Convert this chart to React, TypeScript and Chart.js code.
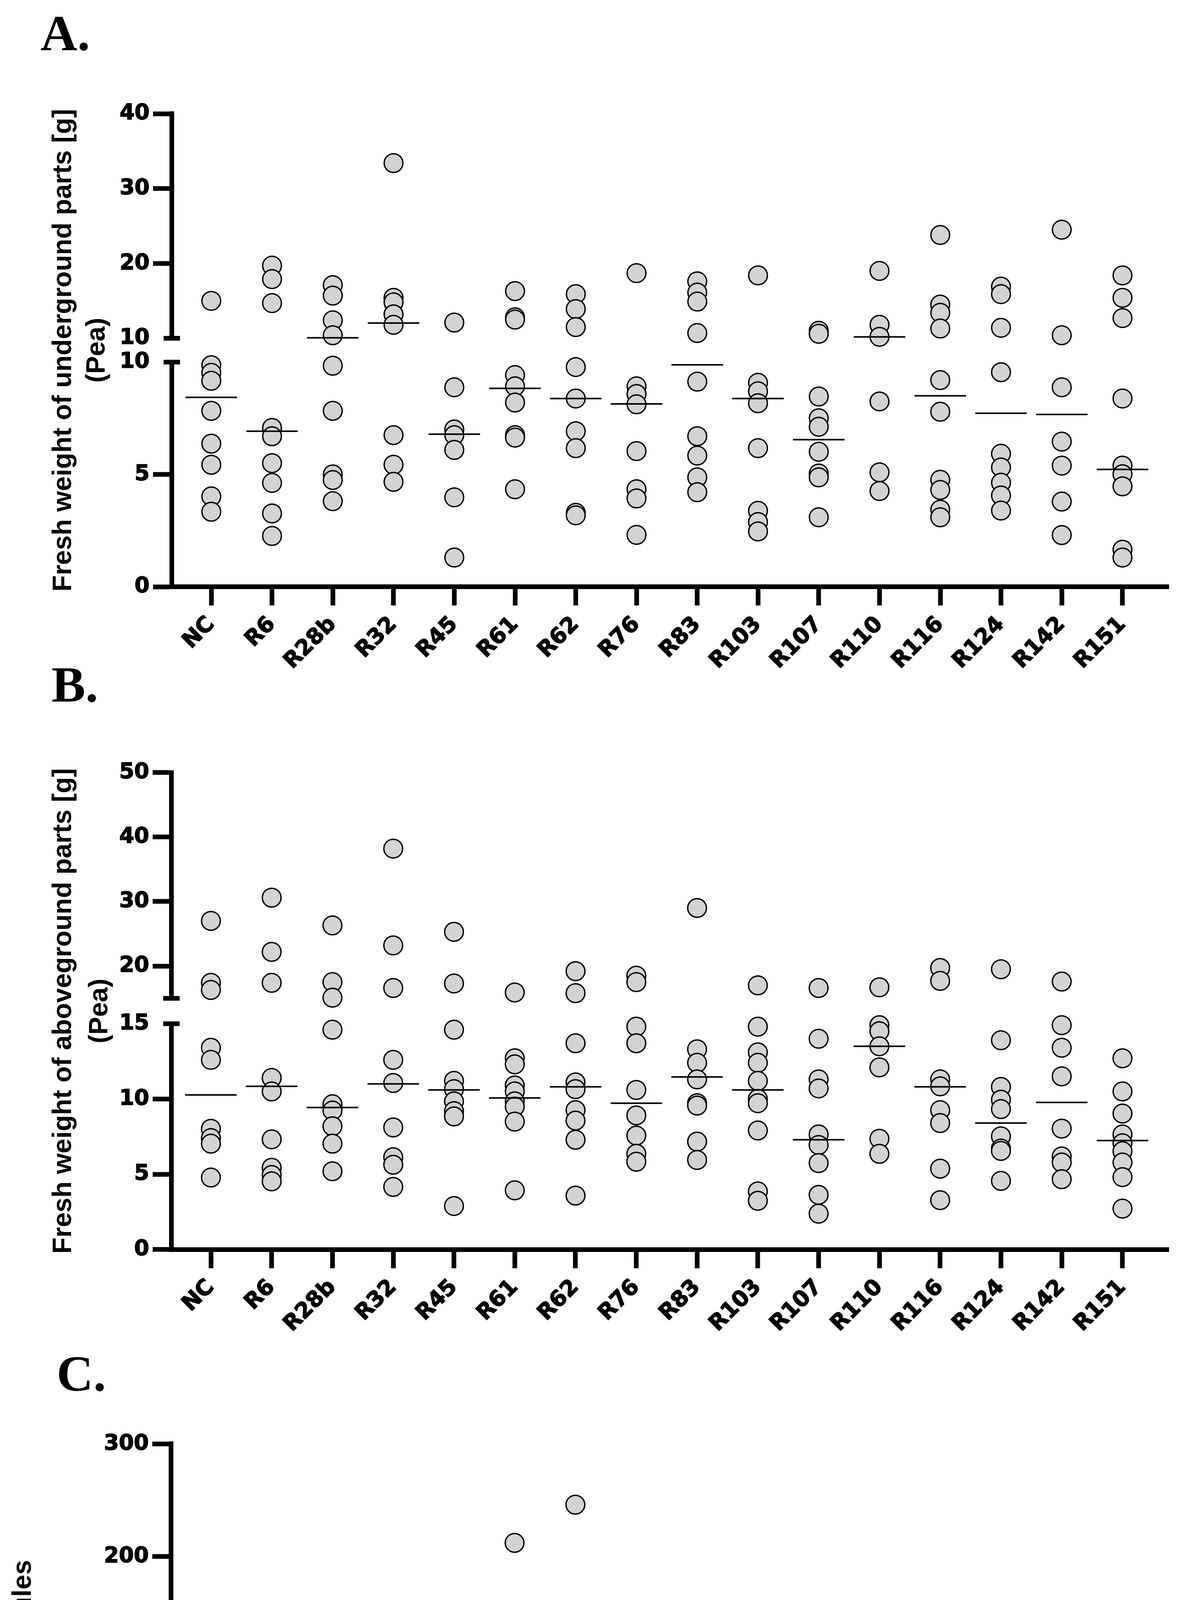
import React, { useEffect, useRef } from 'react';
import { Chart, registerables } from 'chart.js';

Chart.register(...registerables);

// ---------------- data ----------------
const STRAINS = ['NC', 'R6', 'R28b', 'R32', 'R45', 'R61', 'R62', 'R76', 'R83', 'R103', 'R107', 'R110', 'R116', 'R124', 'R142', 'R151'];

// Panel A: fresh weight of underground parts [g]
const A_LOW_TICKS = [0, 5, 10];
const A_HIGH_TICKS = [10, 20, 30, 40];
const A_VALUES = [
  [15.0, 9.86, 9.52, 9.17, 7.83, 6.37, 5.43, 4.02, 3.34],
  [19.7, 17.9, 14.7, 7.07, 6.70, 5.50, 4.62, 3.26, 2.26],
  [17.1, 15.7, 12.4, 10.4, 9.84, 7.83, 5.0, 4.75, 3.81],
  [33.4, 15.4, 14.8, 13.2, 11.8, 6.75, 5.43, 4.67],
  [12.1, 8.88, 7.0, 6.75, 6.09, 3.98, 1.30],
  [16.3, 12.8, 12.5, 9.42, 8.92, 8.20, 6.75, 6.64, 4.34],
  [15.9, 13.9, 11.5, 9.78, 8.38, 6.92, 6.17, 3.29, 3.18],
  [18.7, 8.92, 8.58, 8.12, 6.04, 4.34, 3.93, 2.31],
  [17.6, 16.1, 14.9, 10.7, 9.13, 6.70, 5.84, 4.87, 4.21],
  [18.4, 9.08, 8.70, 8.17, 6.17, 3.38, 2.88, 2.46],
  [11.0, 10.6, 8.47, 7.50, 7.12, 6.01, 5.04, 4.87, 3.09],
  [19.0, 11.8, 10.2, 8.25, 5.09, 4.26],
  [23.8, 14.5, 13.4, 11.3, 9.2, 7.79, 4.76, 4.31, 3.43, 3.09],
  [16.9, 15.9, 11.4, 9.55, 5.92, 5.31, 4.63, 4.06, 3.39],
  [24.5, 10.4, 8.88, 6.46, 5.39, 3.79, 2.30],
  [18.4, 15.4, 12.7, 8.38, 5.39, 5.01, 4.47, 1.65, 1.30],
];
const A_CENTERS = [8.43, 6.92, 10.06, 12.04, 6.79, 8.83, 8.38, 8.14, 9.88, 8.38, 6.55, 10.18, 8.50, 7.72, 7.67, 5.22];

// Panel B: fresh weight of aboveground parts [g]
const B_LOW_TICKS = [0, 5, 10, 15];
const B_HIGH_TICKS = [20, 30, 40, 50];
const B_VALUES = [
  [27.0, 17.4, 16.3, 13.4, 12.6, 8.02, 7.40, 7.03, 4.78],
  [30.6, 22.2, 17.4, 11.4, 10.5, 7.32, 5.43, 4.95, 4.53],
  [26.3, 17.5, 15.1, 14.6, 9.65, 9.23, 8.19, 7.03, 5.20],
  [38.2, 23.2, 16.6, 12.6, 11.06, 8.11, 6.13, 5.63, 4.16],
  [25.3, 17.3, 14.6, 11.2, 10.65, 9.84, 9.19, 8.84, 2.89],
  [15.9, 12.7, 12.3, 10.9, 10.5, 9.84, 9.49, 8.50, 3.93],
  [19.2, 15.8, 13.7, 11.1, 10.65, 9.26, 8.56, 7.29, 3.58],
  [18.5, 17.5, 14.8, 13.7, 10.6, 8.91, 7.57, 6.36, 5.83],
  [29.0, 13.3, 12.4, 11.3, 9.72, 9.56, 7.17, 5.95],
  [17.0, 14.8, 13.1, 12.4, 11.2, 10.0, 9.72, 7.91, 3.86, 3.24],
  [16.6, 14.0, 11.3, 10.7, 7.64, 6.94, 5.74, 3.63, 2.38],
  [16.7, 14.9, 14.5, 13.5, 12.1, 7.36, 6.36],
  [19.7, 17.7, 11.3, 10.84, 9.26, 8.40, 5.37, 3.28],
  [19.5, 13.9, 10.8, 9.95, 9.33, 7.52, 6.71, 6.55, 4.56],
  [17.6, 14.9, 13.4, 11.5, 8.03, 6.18, 5.78, 4.67],
  [12.7, 10.5, 9.03, 7.64, 7.06, 6.53, 5.78, 4.81, 2.72],
];
const B_CENTERS = [10.27, 10.84, 9.43, 11.0, 10.60, 10.07, 10.81, 9.72, 11.46, 10.60, 7.29, 13.50, 10.81, 8.40, 9.77, 7.24];

// Panel C: number of nodules
const C_LOW_TICKS = [0, 50, 100];
const C_HIGH_TICKS = [100, 200, 300];
const C_VALUES = [
  [6, 4, 2, 0, 0, 0, 0, 0, 0],
  [7, 5, 1, 0, 0, 0, 0, 0],
  [21, 11, 4, 2, 1, 0, 0, 0],
  [40, 36, 15, 14, 0, 0, 0, 0],
  [72, 67, 35, 7, 5, 2, 0, 0],
  [212, 106, 59, 35, 17, 13, 6, 0],
  [246, 55, 48, 37, 2, 1, 0, 0],
  [19, 0, 0, 0, 0, 0],
  [35, 17, 7, 4, 0, 0, 0],
  [58, 12, 8, 3, 1, 0, 0],
  [7, 5, 3, 1, 0, 0],
  [5, 0, 0, 0],
  [72, 45, 10, 9, 0, 0],
  [43, 26, 24, 0, 0],
  [111, 32, 0, 0],
  [0, 0, 0],
];
const C_CENTERS = [0, 0, 2, 0, 3.6, 14.4, 0.7, 0, 0, 1, 0, 0, 0, 0, 0, 0];

// ---------------- panels ----------------
type PanelCfg = {
  letter: string;
  letterLeft: number;
  letterTop: number;
  top: number;
  height: number;
  padTop: number;
  xAxisHeight: number;
  axisX: number;
  padRight: number;
  lowRange: [number, number];
  highRange: [number, number];
  lowTicks: number[];
  highTicks: number[];
  weights: [number, number, number];
  values: number[][];
  centers: number[];
  titleLines: string[];
  titleXs: number[];
  centerColor: string;
  centerWidth: number;
};

const PANELS: PanelCfg[] = [
  {
    letter: 'A.', letterLeft: 104, letterTop: 19,
    top: 0, height: 1760, padTop: 291, xAxisHeight: 258, axisX: 440, padRight: 49,
    lowRange: [0, 10], highRange: [10, 40], lowTicks: A_LOW_TICKS, highTicks: A_HIGH_TICKS,
    weights: [575, 61, 575], values: A_VALUES, centers: A_CENTERS,
    titleLines: ['Fresh weight of underground parts [g]', '(Pea)'], titleXs: [163, 249],
    centerColor: '#000', centerWidth: 4,
  },
  {
    letter: 'B.', letterLeft: 132, letterTop: 1687,
    top: 1720, height: 1760, padTop: 257.5, xAxisHeight: 281.2, axisX: 439, padRight: 39,
    lowRange: [0, 15], highRange: [15, 50], lowTicks: B_LOW_TICKS, highTicks: B_HIGH_TICKS,
    weights: [578, 65, 578], values: B_VALUES, centers: B_CENTERS,
    titleLines: ['Fresh weight of aboveground parts [g]', '(Pea)'], titleXs: [163, 256],
    centerColor: '#000', centerWidth: 4,
  },
  {
    letter: 'C.', letterLeft: 145, letterTop: 3451,
    top: 3440, height: 1714, padTop: 256.4, xAxisHeight: 244, axisX: 438, padRight: 36,
    lowRange: [0, 100], highRange: [100, 300], lowTicks: C_LOW_TICKS, highTicks: C_HIGH_TICKS,
    weights: [576, 61.6, 576], values: C_VALUES, centers: C_CENTERS,
    titleLines: ['Number of nodules', '(Pea)'], titleXs: [60, 151],
    centerColor: '#333', centerWidth: 3.5,
  },
];

const Y_TICK_FONT = { family: 'DejaVu Sans', weight: 'bold' as const, size: 55 };
const X_TICK_FONT = { family: 'DejaVu Sans', weight: 'bold' as const, size: 56 };

const breakPlugin = {
  id: 'axisBreak',
  afterDraw(chart: any, _args: any, opts: any) {
    const ctx = chart.ctx;
    const low = chart.scales.yLow;
    const high = chart.scales.yHigh;
    const x = low.right;
    ctx.save();
    ctx.strokeStyle = '#000';
    ctx.lineWidth = 12;
    ctx.lineCap = 'butt';
    [low.top, high.bottom].forEach((y: number) => {
      ctx.beginPath();
      ctx.moveTo(x - 21, y);
      ctx.lineTo(x + 21, y);
      ctx.stroke();
    });
    ctx.fillStyle = '#000';
    ctx.font = 'bold 68px "Liberation Sans", Arial, sans-serif';
    ctx.textAlign = 'center';
    ctx.textBaseline = 'middle';
    const cy = (chart.chartArea.top + chart.chartArea.bottom) / 2;
    (opts.lines || []).forEach((t: string, i: number) => {
      ctx.save();
      ctx.translate(opts.xs[i], cy);
      ctx.rotate(-Math.PI / 2);
      ctx.fillText(t, 0, 0);
      ctx.restore();
    });
    ctx.restore();
  },
};

function buildDatasets(p: PanelCfg) {
  const brk = p.lowRange[1];
  const lowPts: { x: number; y: number }[] = [];
  const highPts: { x: number; y: number }[] = [];
  const lowMed: { x: number; y: number }[] = [];
  const highMed: { x: number; y: number }[] = [];
  p.values.forEach((arr, i) => arr.forEach((v) => (v > brk ? highPts : lowPts).push({ x: i, y: v })));
  p.centers.forEach((v, i) => (v > brk ? highMed : lowMed).push({ x: i, y: v }));
  const ptStyle = {
    showLine: false, clip: false as const, pointStyle: 'circle', pointRadius: 24, pointBorderWidth: 3.5,
    pointBackgroundColor: '#d3d3d3', pointBorderColor: '#000', pointHoverRadius: 24,
  };
  const medStyle = {
    showLine: false, clip: false as const, pointStyle: 'line', pointRadius: 66, pointBorderWidth: p.centerWidth,
    pointBorderColor: p.centerColor, pointBackgroundColor: p.centerColor, pointHoverRadius: 66,
  };
  return [
    { data: lowMed, xAxisID: 'x', yAxisID: 'yLow', ...medStyle },
    { data: highMed, xAxisID: 'x', yAxisID: 'yHigh', ...medStyle },
    { data: lowPts, xAxisID: 'x', yAxisID: 'yLow', ...ptStyle },
    { data: highPts, xAxisID: 'x', yAxisID: 'yHigh', ...ptStyle },
  ];
}

function yAxis(p: PanelCfg, range: [number, number], ticks: number[], hidden: number, weight: number) {
  return {
    type: 'linear' as const,
    position: 'left' as const,
    stack: 'y',
    stackWeight: weight,
    min: range[0],
    max: range[1],
    afterBuildTicks: (s: any) => {
      s.ticks = ticks.map((v) => ({ value: v }));
    },
    afterFit: (s: any) => {
      s.width = p.axisX;
    },
    ticks: { font: Y_TICK_FONT, color: '#000', padding: 9, textStrokeColor: '#000', textStrokeWidth: 2 },
    grid: {
      display: true, drawOnChartArea: false, drawTicks: true, tickLength: 48, tickWidth: 12,
      color: '#000',
      tickColor: (c: any) => (c.tick && c.tick.value === hidden ? 'rgba(0,0,0,0)' : '#000'),
    },
    border: { display: true, color: '#000', width: 12 },
  };
}

function makeConfig(p: PanelCfg): any {
  return {
    type: 'scatter',
    data: { datasets: buildDatasets(p) },
    plugins: [breakPlugin],
    options: {
      animation: false,
      responsive: false,
      maintainAspectRatio: false,
      events: [],
      layout: { padding: { top: p.padTop, left: 0, right: p.padRight, bottom: 0 } },
      plugins: {
        legend: { display: false },
        tooltip: { enabled: false },
        axisBreak: { lines: p.titleLines, xs: p.titleXs },
      },
      scales: {
        x: {
          type: 'linear',
          position: 'bottom',
          min: -0.65,
          max: 15.76,
          afterBuildTicks: (s: any) => {
            s.ticks = STRAINS.map((_, i) => ({ value: i }));
          },
          afterFit: (s: any) => {
            s.height = p.xAxisHeight;
          },
          ticks: {
            autoSkip: false, minRotation: 45, maxRotation: 45, padding: 16,
            font: X_TICK_FONT, color: '#000', textStrokeColor: '#000', textStrokeWidth: 2,
            callback: (v: any) => STRAINS[Math.round(Number(v))] ?? '',
          },
          grid: { display: true, drawOnChartArea: false, drawTicks: true, tickLength: 48, tickWidth: 12, color: '#000', tickColor: '#000' },
          border: { display: true, color: '#000', width: 12 },
        },
        yLow: yAxis(p, p.lowRange, p.lowTicks, p.lowRange[1], p.weights[0]),
        yGap: {
          type: 'linear', position: 'left', stack: 'y', stackWeight: p.weights[1], display: false, min: 0, max: 1,
        },
        yHigh: yAxis(p, p.highRange, p.highTicks, p.highRange[0], p.weights[2]),
      },
    },
  };
}

function Panel({ p }: { p: PanelCfg }) {
  const ref = useRef<HTMLCanvasElement>(null);
  useEffect(() => {
    if (!ref.current) return;
    const chart = new Chart(ref.current, makeConfig(p));
    return () => chart.destroy();
  }, [p]);
  return (
    <canvas
      ref={ref}
      width={3063}
      height={p.height}
      style={{ position: 'absolute', left: 0, top: p.top, width: 3063, height: p.height }}
    />
  );
}

export default function App() {
  return (
    <div style={{ position: 'absolute', left: 0, top: 0, width: 3063, height: 5154, background: '#fff', overflow: 'hidden' }}>
      {PANELS.map((p) => (
        <Panel key={p.letter} p={p} />
      ))}
      {PANELS.map((p) => (
        <div
          key={'t' + p.letter}
          style={{
            position: 'absolute', left: p.letterLeft, top: p.letterTop,
            font: 'bold 130px "Liberation Serif", "Times New Roman", serif', lineHeight: '130px', color: '#000',
          }}
        >
          {p.letter}
        </div>
      ))}
    </div>
  );
}
